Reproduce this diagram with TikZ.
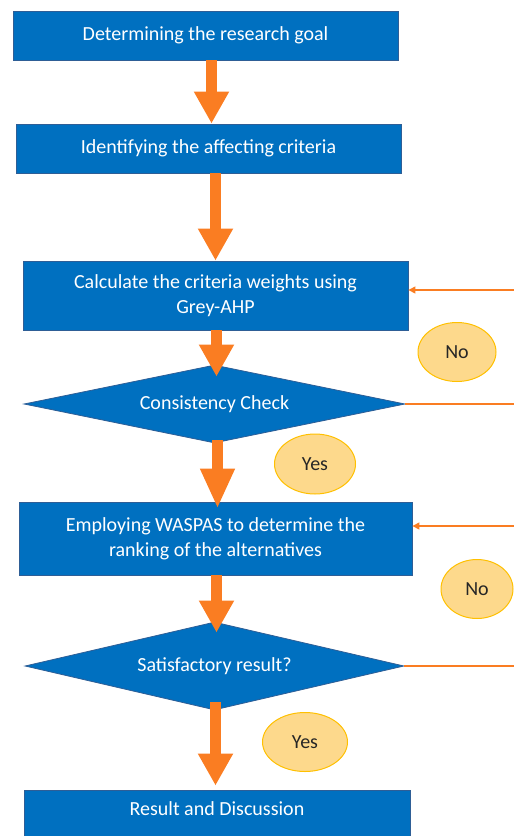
\documentclass[tikz,border=0pt]{standalone}
\usepackage{fontspec}
\setmainfont{Carlito}
\usetikzlibrary{shapes.geometric,arrows.meta,calc}
\definecolor{boxblue}{HTML}{0070C0}
\definecolor{boxedge}{HTML}{2E5E96}
\definecolor{arrorange}{HTML}{FA7D22}
\definecolor{ellfill}{HTML}{FDD98C}
\definecolor{elledge}{HTML}{FFC000}
\tikzset{
  stepbox/.style={rectangle,fill=boxblue,draw=boxedge,line width=0.8pt,text=white,
    inner sep=0pt,align=center,font=\fontsize{20}{25}\selectfont},
  decide/.style={diamond,fill=boxblue,draw=boxedge,line width=0.8pt,text=white,
    inner sep=0pt,align=center,font=\fontsize{20}{24}\selectfont},
  answer/.style={ellipse,fill=ellfill,draw=elledge,line width=1pt,text=black!85,
    inner sep=0pt,font=\fontsize{20}{24}\selectfont},
  bigarrow/.style={draw=arrorange,line width=11pt,
    -{Triangle[width=33pt,length=32pt]}},
  backline/.style={draw=arrorange,line width=1.2pt},
  backarrow/.style={backline,-{Triangle[width=7pt,length=7pt]}},
}
\begin{document}
\begin{tikzpicture}[x=1pt,y=-1pt]
\useasboundingbox (0,0) rectangle (514,836);
\node[stepbox,minimum width=385pt,minimum height=49pt] (b1) at (205.5,35.5) {Determining the research goal};
\node[stepbox,minimum width=385pt,minimum height=49pt] (b2) at (208.5,148.5) {Identifying the affecting criteria};
\node[stepbox,minimum width=385pt,minimum height=69pt] (b3) at (215.5,295.5) {Calculate the criteria weights using\\Grey-AHP};
\node[decide,aspect=4.9,minimum width=381pt,minimum height=78pt] (d1) at (214.5,404) {Consistency Check};
\node[stepbox,minimum width=393pt,minimum height=73pt] (b4) at (215.5,538.5) {Employing WASPAS to determine the\\ranking of the alternatives};
\node[decide,aspect=4.3,minimum width=379pt,minimum height=88pt] (d2) at (214.5,666) {Satisfactory result?};
\node[stepbox,minimum width=386pt,minimum height=52pt] (b5) at (217,816) {Result and Discussion\rule[-14pt]{0pt}{14pt}};

\node[answer,minimum width=78pt,minimum height=59pt] (n1) at (457,352) {No};
\node[answer,minimum width=81pt,minimum height=60pt] (y1) at (315,464) {Yes};
\node[answer,minimum width=72pt,minimum height=59pt] (n2) at (477,589) {No};
\node[answer,minimum width=85pt,minimum height=59pt] (y2) at (305,742) {Yes};

% arrow start points
\coordinate (s1) at ($(b1.south)+(6,0)$);
\coordinate (s2) at ($(b2.south)+(7,0)$);
\coordinate (s3) at ($(b3.south)+(1,0)$);
\coordinate (s4) at ($(d1.south)+(3,0)$);
\coordinate (s5) at ($(b4.south)+(1,0)$);
\coordinate (s6) at ($(d2.south)+(1,0)$);

% main flow
\draw[bigarrow] (s1) -- (s1 |- b2.north);
\draw[bigarrow] (s2) -- (s2 |- b3.north);
\draw[bigarrow,shorten >=-12pt] (s3) -- (s3 |- d1.north);
\draw[draw=arrorange,line width=11pt,-{Triangle[width=32pt,length=40pt]},shorten <=-3pt,shorten >=-7pt] (s4) -- (s4 |- b4.north);
\draw[bigarrow,shorten >=-11pt] (s5) -- (s5 |- d2.north);
\draw[bigarrow,shorten <=-8pt,shorten >=4pt] (s6) -- (s6 |- b5.north);

% feedback lines (continue beyond the right edge)
\coordinate (r1) at (514,290);
\coordinate (r2) at (514,404);
\coordinate (r3) at (514,526);
\coordinate (r4) at (514,666);
\draw[backarrow] (r1) -- (r1 -| b3.east);
\draw[backline] (d1.east) -- (r2);
\draw[backarrow] (r3) -- (r3 -| b4.east);
\draw[backline] (d2.east) -- (r4);
\end{tikzpicture}
\end{document}
